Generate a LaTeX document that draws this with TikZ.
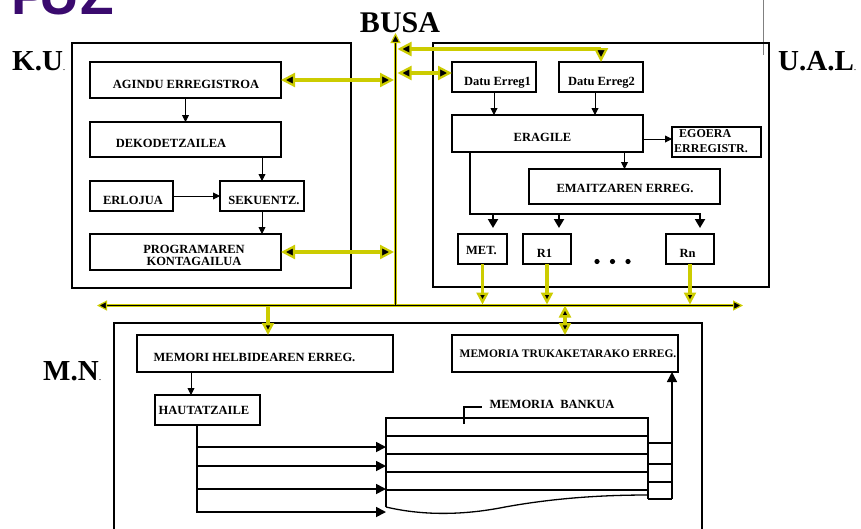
\documentclass[tikz,border=0pt]{standalone}
\usepackage{fontspec}
\setmainfont{Liberation Serif}
\newfontfamily\puzfont{Liberation Sans}
\usetikzlibrary{arrows.meta,calc}
\definecolor{yel}{RGB}{204,204,0}
\definecolor{puzc}{RGB}{58,10,110}
\tikzset{
  YB/.tip={Triangle[length=14pt,width=14pt,line width'=2.2pt,fill=black]},
  YS/.tip={Triangle[length=12pt,width=12pt,line width'=2.4pt,fill=black]},
  BT/.tip={Triangle[length=10pt,width=10pt,line width'=1.2pt,color=yel,fill=black]},
  box/.style={draw, line width=2.2pt, inner sep=0pt, outer sep=0pt, anchor=north west},
  outerbox/.style={draw, line width=1.8pt, inner sep=0pt, outer sep=0pt, anchor=north west},
  txt/.style={font=\bfseries\fontsize{12.5}{14}\selectfont, inner sep=0pt, anchor=base},
  bigtxt/.style={font=\bfseries\fontsize{29}{30}\selectfont, inner sep=0pt, anchor=base west},
  puztxt/.style={font=\puzfont\bfseries\fontsize{55}{55}\selectfont, text=puzc, inner sep=0pt},
  thinarr/.style={line width=0.9pt, -{Triangle[length=7pt,width=7pt]}},
  medarr/.style={line width=2pt, -{Triangle[length=9pt,width=10pt]}},
  hautarr/.style={line width=1.7pt, -{Triangle[length=10pt,width=10pt]}},
  ybig/.style={draw=yel, line width=4.5pt, {YB}-{YB}},
  ysm/.style={draw=yel, line width=3.5pt, -{YS}},
  bankline/.style={line width=1.3pt},
}
\begin{document}
\begin{tikzpicture}[x=1pt,y=-1pt]
\useasboundingbox (0,0) rectangle (861,528);
\fill[white] (0,0) rectangle (861,528);

% title (cut off at top, as in the reference)
\node[puztxt, anchor=base west] (puzP) at (11,14.5) {P};
\node[puztxt, anchor=base] (puzU) at (59.5,14.5) {U};
\node[puztxt, anchor=base] (puzZ) at (97,14.5) {Z};

% gray line top right
\draw[gray, line width=0.8pt] (763,0) -- (763,55);

% big labels
\node[font=\bfseries\fontsize{30}{30}\selectfont, inner sep=0pt, anchor=base] (busa) at (400,32) {BUSA};
\node[bigtxt] (ku) at (12,70) {K.U{\mdseries\fontsize{10}{10}\selectfont.}};
\node[bigtxt] (ual) at (778,70) {U.A.L{\mdseries\fontsize{10}{10}\selectfont.}};
\node[bigtxt] (mnl) at (43,380) {M.N{\mdseries\fontsize{10}{10}\selectfont.}};

% outer boxes
\node[outerbox, minimum width=279pt, minimum height=245pt] (kubox) at (72,43) {};
\node[outerbox, minimum width=336pt, minimum height=244pt] (ualbox) at (433,43) {};
\node[outerbox, minimum width=588pt, minimum height=230pt] (mnbox) at (114,323) {};

% K.U. boxes
\node[box, minimum width=191pt, minimum height=36pt] (agindu) at (90,62) {};
\node[box, minimum width=191pt, minimum height=35pt] (dek) at (90,122) {};
\node[box, minimum width=83pt, minimum height=30pt] (erl) at (90,181) {};
\node[box, minimum width=84pt, minimum height=30pt] (sek) at (220,181) {};
\node[box, minimum width=191pt, minimum height=36pt] (prog) at (90,234) {};
\node[txt] (aginduT) at (186,88) {AGINDU ERREGISTROA};
\node[txt] (dekT) at (171,147) {DEKODETZAILEA};
\node[txt] (erlT) at (133,204) {ERLOJUA};
\node[txt] (sekT) at (264,204) {SEKUENTZ.};
\node[txt, anchor=center, align=center, font=\bfseries\fontsize{12.5}{12}\selectfont] (progT) at (194,255.5) {PROGRAMAREN\\KONTAGAILUA};

% U.A.L. boxes
\node[box, minimum width=84pt, minimum height=30pt] (d1) at (452,62) {};
\node[box, minimum width=84pt, minimum height=30pt] (d2) at (559,62) {};
\node[box, minimum width=191pt, minimum height=37pt] (erag) at (452,115) {};
\node[box, minimum width=89pt, minimum height=30pt] (egoera) at (672,127) {};
\node[box, minimum width=191pt, minimum height=35pt] (emaitz) at (529,169) {};
\node[box, minimum width=49pt, minimum height=30pt] (met) at (458,234) {};
\node[box, minimum width=48pt, minimum height=30pt] (r1) at (523,234) {};
\node[box, minimum width=48pt, minimum height=30pt] (rn) at (666,234) {};
\node[txt] (d1T) at (497.5,85) {Datu Erreg1};
\node[txt] (d2T) at (601.5,85) {Datu Erreg2};
\node[txt] (eragT) at (542.5,141) {ERAGILE};
\node[txt, anchor=west, align=left, font=\bfseries\fontsize{12}{14.5}\selectfont] (egoeraT) at (674,141) {\hspace*{5pt}EGOERA\\ERREGISTR.};
\node[txt] (emaitzT) at (625,192) {EMAITZAREN ERREG.};
\node[txt] (metT) at (481.5,254) {MET.};
\node[txt] (r1T) at (544.5,257) {R1};
\node[txt] (rnT) at (687.5,257) {Rn};
\fill (597,261.5) circle (2.6);
\fill (612.5,261.5) circle (2.6);
\fill (628,261.5) circle (2.6);

% M.N. boxes
\node[box, minimum width=256pt, minimum height=37pt] (memori) at (137,335) {};
\node[box, minimum width=105pt, minimum height=30pt] (haut) at (155,395) {};
\node[box, minimum width=226pt, minimum height=37pt] (truk) at (452,335) {};
\node[txt] (memoriT) at (254.5,361.5) {MEMORI HELBIDEAREN ERREG.};
\node[txt] (hautT) at (204,414) {HAUTATZAILE};
\node[txt, font=\bfseries\fontsize{11.5}{13}\selectfont] (trukT) at (568,357) {MEMORIA TRUKAKETARAKO ERREG.};
\node[txt] (bankT) at (552,408.5) {MEMORIA\hspace{3pt} BANKUA};

% thin black arrows
\draw[thinarr] (agindu.south) -- (dek.north);
\draw[thinarr] (sek.north |- dek.south) -- (sek.north);
\draw[thinarr] (erl.east) -- (sek.west);
\draw[thinarr] (sek.south) -- (sek.south |- prog.north);
\draw[thinarr] (d1.south) -- (d1.south |- erag.north);
\draw[thinarr] ($(d2.south)+(-6,0)$) -- ($(d2.south |- erag.north)+(-6,0)$);
\draw[thinarr] (erag.east |- 0,139) -- (egoera.west |- 0,139);
\draw[thinarr] (emaitz.north |- erag.south) -- (emaitz.north);
\coordinate (mh) at ($(memori.south west)+(54,0)$);
\draw[thinarr] (mh) -- (mh |- haut.north);

% thick arrows to registers
\coordinate (jn) at (470,214);
\coordinate (am) at (493,228);
\coordinate (ar1) at (559,228);
\coordinate (arn) at (700,228);
\draw[medarr] (erag.south -| jn) -- (jn) -- (jn -| arn) -- (arn);
\draw[medarr] (jn -| am) -- (am);
\draw[medarr] (jn -| ar1) -- (ar1);

% memory bank
\coordinate (bankNW) at (386,418);
\draw[bankline] (386,507) -- (bankNW) -- (648,418) -- (648,499);
\foreach \yy in {436,454,472,490} \draw[bankline] (386,\yy) -- (648,\yy);
\draw[bankline] (386,507) .. controls (420,515) and (460,516) .. (505,507) .. controls (560,497) and (610,495) .. (648,495);
\foreach \yy in {443,464,482,499} \draw[bankline] (648,\yy) -- (672,\yy);
\coordinate (cellSE) at (672,499);
\draw[line width=1.5pt, -{Triangle[length=10pt,width=10pt]}] (cellSE) -- (cellSE |- truk.south);
\draw[bankline] (464,424) -- (464,407) -- (482,407);

% hautatzaile lines
\coordinate (hv) at (197,512);
\foreach \yy in {447,466,489} \draw[hautarr] (hv |- 0,\yy) -- (bankNW |- 0,\yy);
\draw[hautarr] (haut.south -| hv) |- (bankNW |- hv);

% bus coordinates
\coordinate (bustop) at (395.5,33);
\coordinate (busbot) at (395.5,305.5);
\coordinate (busL) at (97,305.5);
\coordinate (busR) at (743,305.5);

% yellow connections
\draw[ybig] (agindu.east) -- ($(agindu.east -| bustop)+(-1.5,0)$);
\draw[ybig] (prog.east) -- ($(prog.east -| bustop)+(-1.5,0)$);
\draw[ybig] ($(bustop |- 0,49)+(2,0)$) -- (d2.north |- 0,49) -- (d2.north);
\draw[ybig] ($(bustop |- 0,73)+(2,0)$) -- (d1.west |- 0,73);
\draw[ysm] (met.south) -- ($(met.south |- busbot)+(0,-1)$);
\draw[ysm] (r1.south) -- ($(r1.south |- busbot)+(0,-1)$);
\draw[ysm] (rn.south) -- ($(rn.south |- busbot)+(0,-1)$);
\draw[ysm] ($(memori.north |- busbot)+(3,0)$) -- ($(memori.north)+(3,0)$);
\draw[ysm, {YS}-{YS}] (truk.north |- busbot) -- (truk.north);

% bus
\draw[yel, line width=3pt] (395.5,43) -- (busbot);
\draw[yel, line width=3pt] (106,305.5) -- (733,305.5);
\draw[line width=0.8pt, -{BT}] (busbot) -- (bustop);
\draw[line width=0.8pt, {BT}-{BT}] (busL) -- (busR);
\end{tikzpicture}
\end{document}
